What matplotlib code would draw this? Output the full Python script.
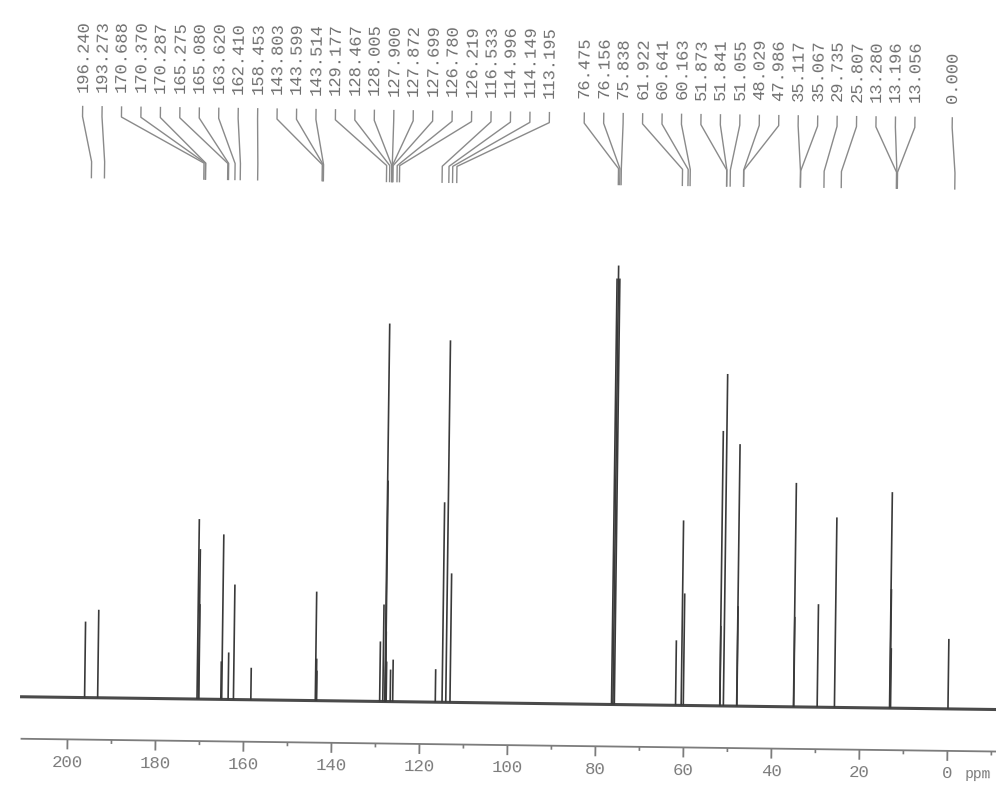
import matplotlib
matplotlib.use("Agg")
import matplotlib.pyplot as plt
from matplotlib.transforms import Affine2D

# 13C NMR peak list: chemical shifts (ppm) and peak heights (arbitrary units)
shifts_ppm = [
    196.240, 193.273, 170.688, 170.370, 170.287, 165.275, 165.080, 163.620,
    162.410, 158.453, 143.803, 143.599, 143.514, 129.177, 128.467, 128.005,
    127.900, 127.872, 127.699, 126.780, 126.219, 116.533, 114.996, 114.149,
    113.195,
    76.475, 76.156, 75.838, 61.922, 60.641, 60.163, 51.873, 51.841, 51.055,
    48.029, 47.986, 35.117, 35.067, 29.735, 25.807, 13.280, 13.196, 13.056,
    0.000,
]
heights = [
    76, 88, 180, 150, 95, 38, 165, 47,
    115, 32, 109, 42, 30, 60, 97, 378,
    221, 70, 40, 32, 42, 33, 200, 362,
    129,
    426, 439, 426, 65, 185, 112, 275, 80, 332,
    262, 100, 224, 90, 103, 190, 216, 119, 60,
    70,
]
# printed label blocks above the spectrum
label_groups = [shifts_ppm[:25], shifts_ppm[25:43], shifts_ppm[43:]]

major_ticks = list(range(0, 201, 20))
minor_ticks = list(range(-10, 200, 20))
tick_labels = [str(t) for t in major_ticks]

# ---- page geometry (pixels) ----
W, H = 996, 792
PX0 = 948.0          # horizontal position of 0 ppm
PX_PER_PPM = 4.4
BASE_ROW = 703.0     # row of the spectrum baseline
TILT = -0.75         # slight rotation of the whole page (deg)


def col(px):
    """page column -> ppm"""
    return (PX0 - px) / PX_PER_PPM


def row(r):
    """page row -> intensity units"""
    return BASE_ROW - r


fig = plt.figure(figsize=(W / 100, H / 100), dpi=100)
fig.patch.set_facecolor("white")
ax = fig.add_axes([0, 0, 1, 1])
ax.set_xlim(col(0), col(W))
ax.set_ylim(row(H), row(0))
ax.axis("off")

T = ax.transData + Affine2D().rotate_deg_around(W / 2, H - BASE_ROW, TILT)

spec_color = "#3a3a3a"
text_color = "#707070"
line_color = "#8a8a8a"
axis_color = "#7c7c7c"
mono = ["Liberation Mono", "DejaVu Sans Mono"]

# baseline and peaks
ax.plot([col(20), col(W + 10)], [0, 0], color="#4a4a4a", lw=2.2,
        transform=T, clip_on=False, solid_capstyle="butt")
ax.vlines(shifts_ppm, 0, heights, colors=spec_color, lw=1.2,
          transform=T, clip_on=False)

# ppm axis
ax.plot([col(22), col(W + 10)], [row(745), row(745)], color=axis_color,
        lw=1.3, transform=T, clip_on=False)
ax.vlines(major_ticks, row(745), row(755), colors=axis_color, lw=1.3,
          transform=T, clip_on=False)
ax.vlines(minor_ticks, row(745), row(749), colors=axis_color, lw=1.2,
          transform=T, clip_on=False)
for t, lab in zip(major_ticks, tick_labels):
    ax.text(t, row(768), lab, transform=T, rotation=TILT,
            rotation_mode="anchor", ha="center", va="center",
            family=mono, fontsize=12.5, color=axis_color, clip_on=False)
ax.text(col(966), row(768), "ppm", transform=T, rotation=TILT,
        rotation_mode="anchor", ha="left", va="center",
        family=mono, fontsize=10.5, color=axis_color, clip_on=False)

# peak labels with connector lines
group_start = [74.9, 576.6, 944.6]
spacing = 19.45
for start, group in zip(group_start, label_groups):
    for i, v in enumerate(group):
        lx = col(start + i * spacing)
        ax.text(lx, row(97), f"{v:.3f}", transform=T, rotation=90 + TILT,
                rotation_mode="anchor", ha="left", va="center",
                family=mono, fontsize=12.3, color=text_color, clip_on=False)
        ax.plot([lx, lx, v, v], [row(112), row(122), row(167), row(183)],
                color=line_color, lw=1.0, transform=T, clip_on=False)

fig.savefig("out.png", dpi=100, facecolor="white")
